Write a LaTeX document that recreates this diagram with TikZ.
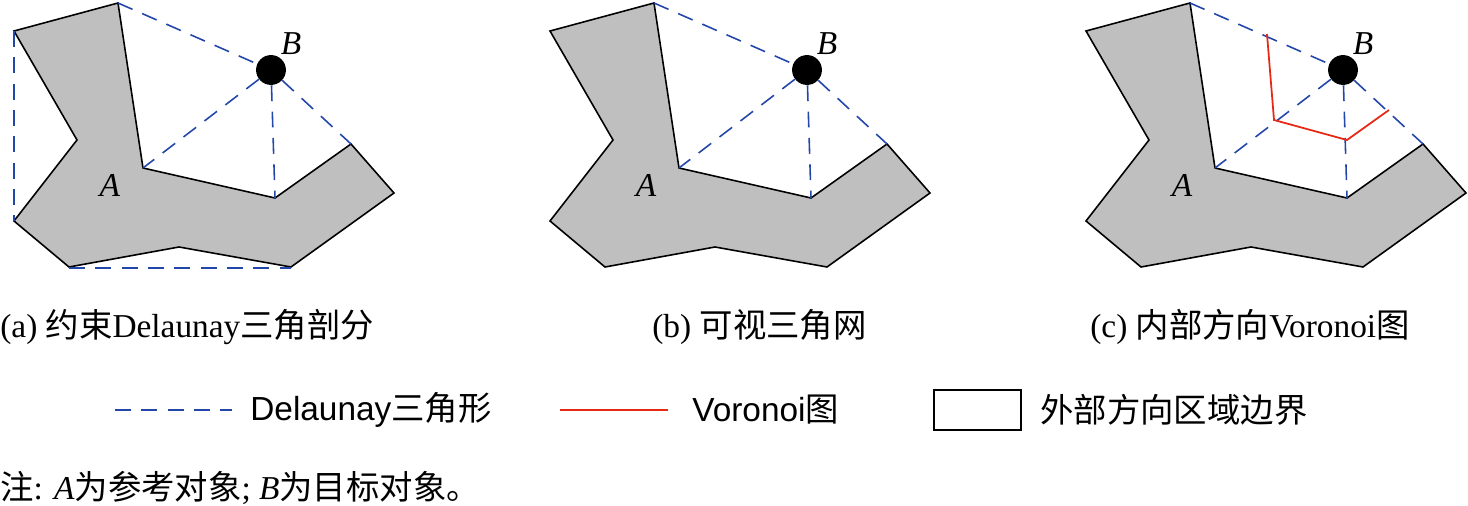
\documentclass[tikz,border=0pt]{standalone}
\usepackage{fontspec}
\setmainfont{Liberation Serif}
\newfontfamily\legendfont{Liberation Sans}
\newfontfamily\cjk{Noto Sans CJK SC}
\definecolor{dblue}{RGB}{35,70,170}
\definecolor{vred}{RGB}{230,40,20}
\begin{document}
\begin{tikzpicture}[x=0.02cm,y=-0.02cm,font=\fontsize{19}{22}\selectfont,
  region/.style={draw=black,fill=gray!50,line width=0.9pt,line join=miter},
  delaunay/.style={draw=dblue,dash pattern=on 9pt off 6pt,line width=0.9pt},
  voronoi/.style={draw=vred,line width=1pt},
  caption/.style={anchor=west,inner sep=0pt}]
\useasboundingbox (0,0) rectangle (1468,506);
\foreach \dx/\cap in {0/a,536/b,1072/c}{
  \begin{scope}[shift={(\dx,0)}]
  \filldraw[region] (14,31) -- (118,3) -- (143,168) -- (275,198) -- (351,144) -- (394,193)
    -- (291,267) -- (179,247) -- (69,267) -- (14,221) -- (77,140) -- cycle;
  \coordinate (top\cap) at (118,3);
  \coordinate (in\cap) at (143,168);
  \coordinate (low\cap) at (275,198);
  \coordinate (tip\cap) at (351,144);
  \node[circle,fill=black,inner sep=0pt,minimum size=17pt] (B\cap) at (271,70) {};
  \node at (291,44) {\textit{B}};
  \node at (110,185) {\textit{A}};
  \draw[delaunay] (top\cap) -- (B\cap) -- (in\cap);
  \draw[delaunay] (B\cap) -- (low\cap);
  \draw[delaunay] (B\cap) -- (tip\cap);
  \end{scope}
}
\draw[delaunay] (14,31) -- (14,221);
\draw[delaunay] (69,268) -- (291,268);
\draw[voronoi] (1267,34) -- (1274,120) -- (1347,140) -- (1389,110);
\node[caption] (capa) at (0,327) {(a) {\cjk 约束}Delaunay{\cjk 三角剖分}};
\node[caption] (capb) at (652,327) {(b) {\cjk 可视三角网}};
\node[caption] (capc) at (1090,327) {(c) {\cjk 内部方向}Voronoi{\cjk 图}};
\coordinate (la) at (115,410);
\coordinate (lb) at (232,410);
\draw[delaunay] (la) -- (lb);
\node[caption] (t1) at (250,410) {\legendfont Delaunay{\cjk 三角形}};
\coordinate (lc) at (560,410);
\coordinate (ld) at (668,410);
\draw[voronoi] (lc) -- (ld);
\node[caption] (t2) at (692,410) {\legendfont Voronoi{\cjk 图}};
\node[draw,line width=0.9pt,minimum width=87*0.02cm,minimum height=40*0.02cm,anchor=west] (box) at (933,410) {};
\node[caption] (t3) at (1040,410) {\cjk 外部方向区域边界};
\node[caption] (note) at (0,488) {{\cjk 注}: \textit{A}{\cjk 为参考对象}; \textit{B}{\cjk 为目标对象。}};
\end{tikzpicture}
\end{document}
